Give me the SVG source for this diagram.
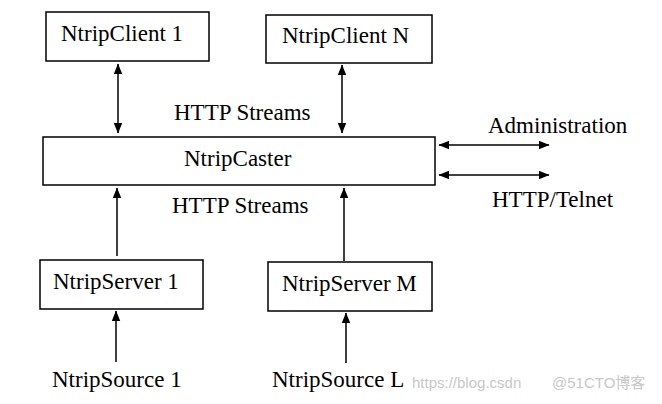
<svg xmlns="http://www.w3.org/2000/svg" width="662" height="404" viewBox="0 0 662 404">
<style>
.box{fill:#fff;stroke:#000;stroke-width:1.5}
.t{font-family:"Liberation Serif","Times New Roman",serif;font-size:23px;fill:#000}
.ln{stroke:#000;stroke-width:1.5;fill:none}
.wm{font-family:"Liberation Sans","Noto Sans CJK SC",sans-serif;font-size:15px;fill:#c8c8c8}
</style>
<defs>
<marker id="ah" viewBox="0 0 10 8" refX="9.5" refY="4" markerWidth="11" markerHeight="9" markerUnits="userSpaceOnUse" orient="auto-start-reverse">
<path d="M0,0 L10,4 L0,8 Z" fill="#000"/>
</marker>
</defs>
<rect width="662" height="404" fill="#fff"/>
<g id="connectors">
<line class="ln" x1="118" y1="64" x2="118" y2="133" marker-start="url(#ah)" marker-end="url(#ah)"/>
<line class="ln" x1="342" y1="65" x2="342" y2="133" marker-start="url(#ah)" marker-end="url(#ah)"/>
<line class="ln" x1="439" y1="145" x2="549" y2="145" marker-start="url(#ah)" marker-end="url(#ah)"/>
<line class="ln" x1="439" y1="175" x2="549" y2="175" marker-start="url(#ah)" marker-end="url(#ah)"/>
<line class="ln" x1="117" y1="256" x2="117" y2="188" marker-end="url(#ah)"/>
<line class="ln" x1="344" y1="261" x2="344" y2="188" marker-end="url(#ah)"/>
<line class="ln" x1="116" y1="362" x2="116" y2="311" marker-end="url(#ah)"/>
<line class="ln" x1="346" y1="363" x2="346" y2="313" marker-end="url(#ah)"/>
<text class="t" x="174" y="120">HTTP Streams</text>
<text class="t" x="172" y="213">HTTP Streams</text>
<text class="t" x="488" y="133">Administration</text>
<text class="t" x="492" y="207">HTTP/Telnet</text>
</g>
<g id="client1"><rect class="box" x="46" y="12" width="163" height="49"/><text class="t" x="61" y="41">NtripClient 1</text></g>
<g id="clientN"><rect class="box" x="266" y="15" width="166" height="48"/><text class="t" x="282" y="43">NtripClient N</text></g>
<g id="caster"><rect class="box" x="43" y="137" width="392" height="48"/><text class="t" x="184" y="166">NtripCaster</text></g>
<g id="server1"><rect class="box" x="40" y="260" width="163" height="49"/><text class="t" x="53" y="289">NtripServer 1</text></g>
<g id="serverM"><rect class="box" x="268" y="262" width="164" height="49"/><text class="t" x="282" y="291">NtripServer M</text></g>
<g id="source1"><text class="t" x="52" y="387">NtripSource 1</text></g>
<g id="sourceL"><text class="t" x="272" y="387">NtripSource L</text></g>
<g id="watermark">
<text class="wm" x="412" y="388">https://blog.csdn</text>
<text class="wm" x="552" y="388">@51CTO博客</text>
</g>
</svg>
